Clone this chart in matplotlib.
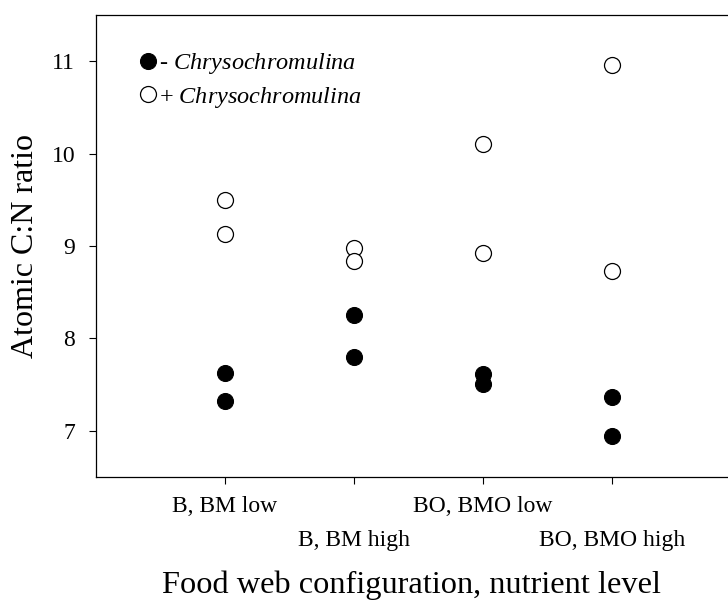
import numpy as np
import matplotlib
matplotlib.use("Agg")
import matplotlib.pyplot as plt

plt.rcParams["font.family"] = ["Liberation Serif", "DejaVu Serif"]
plt.rcParams["mathtext.fontset"] = "custom"
plt.rcParams["mathtext.it"] = "Liberation Serif:italic"
plt.rcParams["mathtext.rm"] = "Liberation Serif"

categories = ["B, BM low", "B, BM high", "BO, BMO low", "BO, BMO high"]

# C:N ratio, two replicates per configuration
minus_chryso = [[7.63, 7.32], [8.25, 7.80], [7.62, 7.51], [7.37, 6.94]]
plus_chryso = [[9.50, 9.13], [8.98, 8.84], [10.10, 8.92], [10.96, 8.73]]

fig = plt.figure(figsize=(7.28, 6.01), dpi=100)
ax = fig.add_axes([96 / 728, 1 - 477 / 601, 1 - 96 / 728, (477 - 15) / 601])

xpos = np.arange(1, len(categories) + 1)
for i, x in enumerate(xpos):
    ax.plot([x] * len(minus_chryso[i]), minus_chryso[i], "o", ms=11.5,
            mfc="black", mec="black", mew=0.8, ls="none",
            label="- $\\it{Chrysochromulina}$" if i == 0 else None)
for i, x in enumerate(xpos):
    ax.plot([x] * len(plus_chryso[i]), plus_chryso[i], "o", ms=11.5,
            mfc="white", mec="black", mew=0.9, ls="none",
            label="+ $\\it{Chrysochromulina}$" if i == 0 else None)

ax.set_xlim(0, 4.9)
ax.set_ylim(6.5, 11.5)
ax.set_yticks([7, 8, 9, 10, 11])
ax.set_xticks(xpos)
ax.set_xticklabels(categories)
ax.tick_params(axis="both", direction="out", length=5, width=0.8, labelsize=17)
ax.tick_params(axis="y", pad=10)
# staggered labels: second and fourth shifted down
for k, t in enumerate(ax.xaxis.get_major_ticks()):
    t.set_pad(9 if k % 2 == 0 else 33)
ax.spines["right"].set_visible(False)
for s in ["left", "top", "bottom"]:
    ax.spines[s].set_linewidth(0.9)

ax.set_ylabel("Atomic C:N ratio", fontsize=23, labelpad=8)
ax.set_xlabel("Food web configuration, nutrient level", fontsize=23.3, labelpad=14.5)

ax.legend(loc="upper left", frameon=False, fontsize=17.5, handlelength=0.5,
          handletextpad=0.2, borderaxespad=0.0, borderpad=0.0, labelspacing=0.35,
          bbox_to_anchor=(0.073, 0.9215))

fig.savefig("out.png", dpi=100)
